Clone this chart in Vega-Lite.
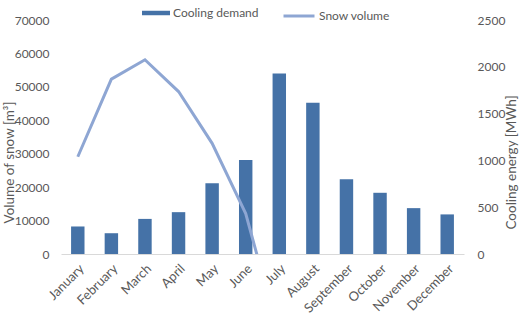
{
  "$schema": "https://vega.github.io/schema/vega-lite/v6.json",
  "width": 403,
  "height": 234,
  "autosize": "none",
  "padding": {"left": 61, "top": 20, "right": 58, "bottom": 61},
  "background": "white",
  "config": {
    "view": {"stroke": null},
    "font": "Lato",
    "axis": {
      "labelColor": "#595959",
      "titleColor": "#595959",
      "labelFont": "Lato",
      "titleFont": "Lato",
      "labelFontSize": 12,
      "titleFontSize": 13.5,
      "titleFontWeight": "normal",
      "grid": false,
      "ticks": false
    },
    "legend": {
      "labelColor": "#595959",
      "labelFont": "Lato",
      "labelFontSize": 12,
      "padding": 0,
      "labelOffset": 3
    }
  },
  "data": {
    "values": [
      {"month": "January", "cooling": 294, "snow": 29100},
      {"month": "February", "cooling": 222, "snow": 52300},
      {"month": "March", "cooling": 375, "snow": 58100},
      {"month": "April", "cooling": 447, "snow": 48600},
      {"month": "May", "cooling": 755, "snow": 33100},
      {"month": "June", "cooling": 1005, "snow": 12100},
      {"month": "July", "cooling": 1928, "snow": -24700},
      {"month": "August", "cooling": 1617, "snow": null},
      {"month": "September", "cooling": 798, "snow": null},
      {"month": "October", "cooling": 654, "snow": null},
      {"month": "November", "cooling": 490, "snow": null},
      {"month": "December", "cooling": 423, "snow": null}
    ]
  },
  "encoding": {
    "x": {
      "field": "month",
      "type": "ordinal",
      "sort": null,
      "scale": {"paddingInner": 0.6, "paddingOuter": 0.3},
      "axis": {
        "title": null,
        "labelAngle": -45,
        "labelFontSize": 13,
        "domainColor": "#D9D9D9",
        "domainWidth": 1,
        "labelPadding": 8
      }
    }
  },
  "layer": [
    {
      "mark": {"type": "bar", "color": "#4572A7"},
      "encoding": {
        "y": {
          "field": "cooling",
          "type": "quantitative",
          "scale": {"domain": [0, 2500], "nice": false},
          "axis": {
            "orient": "right",
            "title": "Cooling energy [MWh]",
            "values": [0, 500, 1000, 1500, 2000, 2500],
            "format": "d",
            "domain": false,
            "labelPadding": 13,
            "titleAngle": -90,
            "titleX": 54,
            "titleY": 142
          }
        },
        "color": {
          "datum": "Cooling demand",
          "scale": {"range": ["#4572A7"]},
          "legend": {
            "title": null,
            "orient": "none",
            "legendX": 81,
            "legendY": -21,
            "symbolType": "M-1,-0.16H1V0.16H-1Z",
            "symbolSize": 784,
            "symbolStrokeWidth": 0
          }
        }
      }
    },
    {
      "mark": {"type": "line", "strokeWidth": 3, "clip": true},
      "encoding": {
        "y": {
          "field": "snow",
          "type": "quantitative",
          "scale": {"domain": [0, 70000], "nice": false, "zero": false},
          "axis": {
            "orient": "left",
            "title": "Volume of snow [m³]",
            "values": [0, 10000, 20000, 30000, 40000, 50000, 60000, 70000],
            "format": "d",
            "domain": false,
            "labelPadding": 12,
            "titleX": -45,
            "titleY": 142
          }
        },
        "stroke": {
          "datum": "Snow volume",
          "scale": {"range": ["#8EA6D3"]},
          "legend": {
            "title": null,
            "orient": "none",
            "legendX": 221,
            "legendY": -21,
            "symbolType": "stroke",
            "symbolSize": 961,
            "symbolStrokeWidth": 3
          }
        }
      }
    }
  ],
  "resolve": {"scale": {"y": "independent"}}
}
